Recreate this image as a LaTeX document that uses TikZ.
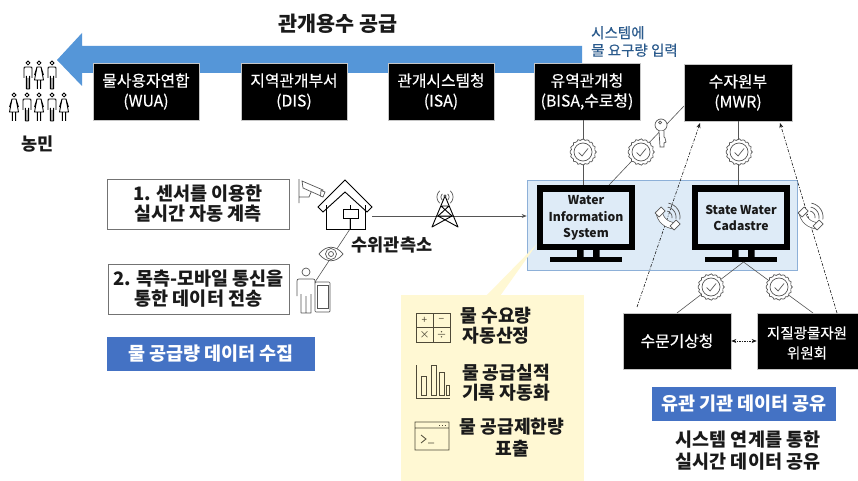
\documentclass[tikz,border=0pt]{standalone}
\usepackage{fontspec}
\setmainfont{Noto Sans CJK KR}
\newfontfamily\medfont[FakeBold=0.35]{Noto Sans CJK KR}
\usetikzlibrary{arrows.meta,calc}
\definecolor{arrowblue}{HTML}{5596D8}
\definecolor{panelblue}{HTML}{DEEBF7}
\definecolor{panelline}{HTML}{8DB0D8}
\definecolor{labelblue}{HTML}{4472C4}
\definecolor{inkblue}{HTML}{2A5A8C}
\definecolor{pale}{HTML}{FFF8D3}
\definecolor{ink}{HTML}{1A1A1A}
\definecolor{icon}{HTML}{555555}
\definecolor{brownicon}{HTML}{4F4A38}
\newcommand{\fs}[2]{\fontsize{#1}{#2}\selectfont}
\tikzset{
  agency/.style={fill=black,draw=gray!45,line width=0.6pt,text=white,align=center,inner sep=0pt},
  agencytext/.style={text=white,align=center,inner sep=0pt,font=\medfont\fs{15.8}{20}},
  whitebox/.style={fill=white,draw=gray!90!black,line width=0.8pt,text=ink,align=center,inner sep=0pt,font=\bfseries\fs{18.5}{20}},
  tag/.style={fill=labelblue,text=white,align=center,inner sep=0pt,font=\bfseries\fs{18.5}{20}},
  caption/.style={text=ink,align=center,inner sep=0pt,font=\bfseries\fs{18.5}{22}},
  yellowtext/.style={text=ink,align=center,inner sep=0pt,font=\bfseries\fs{18.2}{20}},
  screen/.style={text=ink,align=center,inner sep=0pt,font=\bfseries\fs{12.2}{16.5}},
  conn/.style={draw=icon,line width=0.6pt},
  dashconn/.style={draw=ink,line width=0.6pt,dash pattern=on 3pt off 1.5pt on 1pt off 1.5pt,-{Stealth[length=5pt,width=4pt]}},
  ico/.style={draw=icon,line width=0.7pt},
  dark/.style={draw=black,line width=0.9pt},
  calc/.style={text=brownicon,font=\fs{10}{10},inner sep=0pt},
  brown/.style={draw=brownicon,line width=0.8pt},
  human/.style={draw=black,line width=0.85pt},
}
\newcommand{\boxnode}[6]{\node[#1,minimum width=#5-#3,minimum height=#6-#4] (#2) at ({(#3+#5)/2},{(#4+#6)/2}) {\strut};}
\newcommand{\seal}[3]{%
  \fill[#3] (#1,#2) circle (12.5);
  \draw[ico,smooth cycle] plot[domain=0:352,samples=45] ({#1+(12.5+0.8*cos(16*\x))*cos(\x)},{#2+(12.5+0.8*cos(16*\x))*sin(\x)});
  \draw[ico] (#1,#2) circle (9);
  \draw[ico] (#1-4.5,#2+0.5) -- (#1-1,#2+4) -- (#1+5,#2-3.5);
}
\newcommand{\arcw}[5]{\draw[ico] plot[domain=#4:#5,samples=12,smooth] ({#1+#3*cos(\x)},{#2+#3*sin(\x)});}
\newcommand{\handset}[2]{%
  \draw[draw=icon,line width=7pt] (#1-8,#2-7) .. controls (#1-7,#2+2) and (#1-1,#2+7) .. (#1+8,#2+8);
  \draw[draw=white,line width=5.6pt] (#1-8,#2-7) .. controls (#1-7,#2+2) and (#1-1,#2+7) .. (#1+8,#2+8);
  \draw[ico,fill=white] (#1-12,#2-5) -- (#1-6,#2-11) -- (#1-2,#2-7) -- (#1-8,#2-1) -- cycle;
  \draw[ico,fill=white] (#1+3,#2+8) -- (#1+9,#2+2) -- (#1+13,#2+6) -- (#1+7,#2+12) -- cycle;
  \arcw{#1-1}{#2-1}{6}{-80}{10}
  \arcw{#1-1}{#2-1}{10}{-80}{10}
  \arcw{#1-1}{#2-1}{14}{-80}{10}
}
\newcommand{\man}[2]{%
  \draw[human] (#1,#2) circle (1.9);
  \draw[human] (#1-1.6,#2+26) -- (#1-1.6,#2+13) (#1,#2+26) -- (#1,#2+15) (#1+1.6,#2+26) -- (#1+1.6,#2+13)
    (#1-1.6,#2+26) -- (#1+1.6,#2+26)
    (#1-4,#2+15) -- (#1-4,#2+6) .. controls (#1-4,#2+4) .. (#1-2,#2+4) -- (#1+2,#2+4) .. controls (#1+4,#2+4) .. (#1+4,#2+6) -- (#1+4,#2+15);
}
\newcommand{\woman}[2]{%
  \draw[human] (#1,#2) circle (1.9);
  \draw[human] (#1-2,#2+4) -- (#1+2,#2+4) -- (#1+4.5,#2+17) -- (#1-4.5,#2+17) -- cycle
    (#1-1.6,#2+17) -- (#1-1.6,#2+26) (#1+1.6,#2+17) -- (#1+1.6,#2+26)
    (#1-2,#2+4) -- (#1-4.5,#2+12) (#1+2,#2+4) -- (#1+4.5,#2+12);
}
\newcommand{\monitor}[3]{%
  \fill[black] (#2,185) rectangle ++(98,65);
  \fill[black] (#2+40,250) rectangle ++(6.5,8) (#2+56,250) rectangle ++(6.5,8);
  \fill[black] (#2+13,257) rectangle ++(72,4.5);
  \node[fill=panelblue,minimum width=86,minimum height=52,screen] (#1) at (#2+49,218) {#3};
}
\begin{document}
\begin{tikzpicture}[x=1pt,y=-1pt]
\useasboundingbox (0,0) rectangle (858,481);
\fill[white] (0,0) rectangle (858,481);

\fill[arrowblue] (582,46) -- (82,46) -- (82,33) -- (57,60) -- (82,86) -- (82,73) -- (582,73) -- cycle;
\node[text=ink,font=\bfseries\fs{20.7}{24},inner sep=0pt] (title) at (338,24) {관개용수 공급};
\node[text=inkblue,font=\medfont\fs{14.5}{17.5},align=left,anchor=west,inner sep=0pt] (input) at (591,41.5) {시스템에\\물 요구량 입력};

\boxnode{agency}{wua}{93}{63}{199}{120}
\boxnode{agency}{dis}{241}{63}{347}{120}
\boxnode{agency}{isa}{388}{63}{494}{120}
\boxnode{agency}{bisa}{534}{63}{640}{120}
\boxnode{agency}{mwr}{684}{64}{792}{121}
\boxnode{agency}{kma}{623}{313}{731}{369}
\boxnode{agency}{kigam}{757}{313}{858}{369}
\node[agencytext] (wuat) at (wua) {물사용자연합\\(WUA)};
\node[agencytext] (dist) at (dis) {지역관개부서\\(DIS)};
\node[agencytext] (isat) at (isa) {관개시스템청\\(ISA)};
\node[agencytext] (bisat) at (bisa) {유역관개청\\(BISA,수로청)};
\node[agencytext] (mwrt) at (mwr) {수자원부\\(MWR)};
\node[agencytext] (kmat) at (kma) {수문기상청};
\node[agencytext,font=\medfont\fs{14.5}{20}] (kigamt) at (807,343) {지질광물자원\\위원회};

\man{28}{63}\woman{39}{63}\man{52}{63}
\woman{14}{95}\man{27}{95}\woman{39}{95}\man{52}{95}\woman{64}{95}
\node[text=ink,font=\bfseries\fs{17.5}{20},inner sep=0pt] (farmers) at (38,144) {농민};

\node[fill=panelblue,draw=panelline,line width=0.7pt,minimum width=270,minimum height=90,inner sep=0pt] (panel) at (662,225) {};
\fill[pale] (537,244) -- (486,296) -- (500,296) -- cycle;
\node[fill=pale,minimum width=183,minimum height=186,inner sep=0pt] (yellow) at (492.5,388) {};
\monitor{wis}{537}{Water\\Information\\System}
\monitor{swc}{692}{State Water\\Cadastre}

\node[whitebox,minimum width=182,minimum height=50] (auto) at (198,204) {1. 센서를 이용한\\실시간 자동 계측};
\node[whitebox,minimum width=181,minimum height=50] (mobile) at (198.5,289) {2. 목측-모바일 통신을\\통한 데이터 전송};
\node[tag,minimum width=208,minimum height=34] (collect) at (211,354) {물 공급량 데이터 수집};
\node[tag,minimum width=184,minimum height=34] (share) at (744,404) {유관 기관 데이터 공유};
\node[caption] (realtime) at (748,451) {시스템 연계를 통한\\실시간 데이터 공유};
\node[text=ink,font=\bfseries\fs{17.5}{20},inner sep=0pt] (station) at (392,245) {수위관측소};

\coordinate (c1) at (583,150);
\coordinate (c2) at (738,150);
\coordinate (base2) at (743.5,262);
\coordinate (topw) at (609,185);
\coordinate (housebox) at (350,218);
\coordinate (houseout) at (372,216);
\coordinate (phonetop) at (315,282);
\coordinate (d1) at (637,307);
\coordinate (d1e) at (700,123);
\coordinate (d2) at (837,313);
\coordinate (d2e) at (780,123);
\draw[conn] (c1 |- bisa.south) -- (c1 |- 0,185);
\draw[conn] (c2 |- mwr.south) -- (c2 |- 0,185);
\draw[conn] (684,106) -- (topw);
\draw[conn] (base2) -- (677,313);
\draw[conn] (base2) -- (813,313);
\draw[conn,-{Stealth[length=5pt,width=4pt]}] (houseout) -- (panel.west |- houseout);
\draw[conn] (housebox) -- (350,229) -- (phonetop);
\draw[dashconn] (d1) -- (d1e);
\draw[dashconn] (d2) -- (d2e);
\draw[draw=ink,line width=0.6pt,dash pattern=on 1.5pt off 1pt,{Stealth[length=5pt,width=4pt]}-{Stealth[length=5pt,width=4pt]}] (kma.east) -- (kigam.west);

\seal{583}{152}{white}
\seal{641}{152}{white!0}
\seal{739}{152}{white}
\seal{711}{287}{panelblue!0}
\seal{779}{287}{panelblue!0}

\draw[ico,fill=white] (661,125) circle (6);
\draw[ico] (660,122.5) circle (1.5);
\draw[ico,fill=white] (659,131) -- (660,147) -- (664,147) -- (664,143) -- (666,142) -- (665,138) -- (664,137) -- (664,131);

\handset{667}{218}
\handset{810}{218}

\draw[ico] (299,179) -- (299,203) (299,197) -- (309,197) -- (312,190);
\draw[ico,fill=white] (302,181) -- (323,190) -- (321,196) -- (303,188) -- cycle;
\draw[ico,fill=white] (321,190.5) -- (325,192) -- (323,197) -- (320.5,196) -- cycle;

\draw[dark,line join=miter,fill=white] (345,180) -- (372,207) -- (367,212) -- (345,192) -- (323,212) -- (318,207) -- cycle;
\draw[dark] (326,205) -- (326,229) -- (365,229) -- (365,205);
\draw[dark,fill=white] (343,209) rectangle (358,218);
\draw[dark] (350,205) -- (350,209) (350,218) -- (350,229);

\draw[ico,fill=white] (319,254) .. controls (326,245) and (336,245) .. (343,254) .. controls (336,263) and (326,263) .. (319,254) -- cycle;
\draw[ico] (331,254) circle (5.5);
\draw[ico] (331,254) circle (2.5);

\draw[ico] (306,272) circle (4);
\draw[ico] (301,313) -- (301,294) (311,313) -- (311,294) (306,296) -- (306,313) (301,313) -- (311,313)
  (297,296) -- (297,283) .. controls (297,279) .. (301,279) -- (311,279) .. controls (315,279) .. (315,283);
\draw[ico,fill=white,rounded corners=1pt] (315,282) rectangle (330,312);
\draw[ico] (317,285) rectangle (328,308);

\draw[dark,line join=round] (445,196) -- (432,227) -- (452,216) -- (438,216) -- (458,227) -- cycle;
\draw[dark] (441,206) -- (449,206) (441,206) -- (452,216) (449,206) -- (438,216);
\draw[ico,fill=black] (445,196) circle (1.2);
\arcw{445}{197}{4}{-50}{50}\arcw{445}{197}{4}{130}{230}
\arcw{445}{197}{8}{-50}{50}\arcw{445}{197}{8}{130}{230}

\draw[brown] (416,313) rectangle (450,342) (433,313) -- (433,342) (416,327.5) -- (450,327.5);
\node[calc] (plus) at (424.5,320) {+};
\node[calc] (minus) at (441.5,320) {−};
\node[calc] (times) at (424.5,335) {×};
\node[calc] (div) at (441.5,335) {÷};
\draw[brown] (416,365) -- (416,398) -- (450,398)
  (421,395) rectangle (426,376) (431,395) rectangle (436,365) (439,395) rectangle (444,372) (446,395) rectangle (449,385);
\draw[brown] (415,422) rectangle (449,450) (415,428) -- (449,428)
  (421,435) -- (426,439) -- (421,443) (428,443) -- (434,443);
\draw[brown,dotted,line width=1pt] (439,425) -- (447,425);

\node[yellowtext] (t1) at (496,325.5) {물 수요량\\자동산정};
\node[yellowtext] (t2) at (506,383) {물 공급실적\\기록 자동화};
\node[yellowtext,font=\bfseries\fs{18.2}{22}] (t3) at (512,438) {물 공급제한량\\표출};
\end{tikzpicture}
\end{document}
